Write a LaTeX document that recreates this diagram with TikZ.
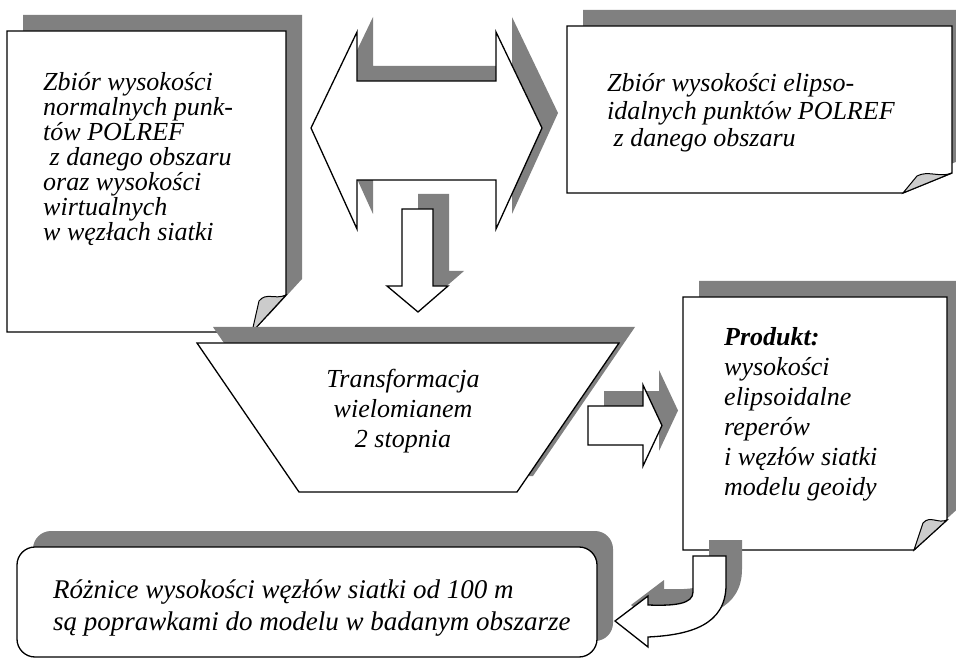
\documentclass[tikz,border=0pt]{standalone}
\usepackage{fontspec}
\setmainfont{Liberation Serif}
\definecolor{shadowgray}{RGB}{128,128,128}
\definecolor{curlgray}{RGB}{204,204,204}
% fixed-pitch stack of lines; baseline = first line
\newcommand{\lns}[3]{\vtop{\fontsize{#1pt}{#2pt}\selectfont\baselineskip=#2pt\lineskiplimit=-1000pt\lineskip=0pt\relax #3}}
\newcommand{\cl}[1]{\hbox to 300pt{\hss #1\hss}}
\begin{document}
\begin{tikzpicture}[x=1pt,y=-1pt,line join=miter,
  shadowfill/.style={fill=shadowgray,draw=none},
  shapebox/.style={fill=white,draw=black,line width=1.3pt},
  curlfill/.style={fill=curlgray,draw=black,line width=1pt},
  txt/.style={inner sep=0pt,font=\itshape}]
\useasboundingbox (0,0) rectangle (956,660);
\clip (0,0) rectangle (956,660);
% ---- box 1 (folded corner)
\path[shadowfill,shift={(16,-16)}] (7,31) -- (286,31) -- (286,295) -- (252,332) -- (7,332) -- cycle;
\path[shapebox] (7,31) -- (286,31) -- (286,295) -- (252,332) -- (7,332) -- cycle;
\path[curlfill] (252,332) -- (259,301) .. controls (266,292) and (275,300) .. (286,295) -- cycle;
% ---- double arrow
\path[shadowfill,shift={(16,-15)}] (311,128) -- (357,32) -- (357,81) -- (496,81) -- (496,32) -- (542,128) -- (496,229) -- (496,180) -- (357,180) -- (357,229) -- cycle;
\path[shapebox] (311,128) -- (357,32) -- (357,81) -- (496,81) -- (496,32) -- (542,128) -- (496,229) -- (496,180) -- (357,180) -- (357,229) -- cycle;
% ---- down arrow
\path[shadowfill,shift={(16,-15)}] (402,209) -- (433,209) -- (433,286) -- (448,286) -- (418,312) -- (387,286) -- (402,286) -- cycle;
\path[shapebox] (402,209) -- (433,209) -- (433,286) -- (448,286) -- (418,312) -- (387,286) -- (402,286) -- cycle;
% ---- box 2
\path[shadowfill,shift={(16,-16)}] (567,26) -- (952,26) -- (952,173) -- (903,193) -- (567,193) -- cycle;
\path[shapebox] (567,26) -- (952,26) -- (952,173) -- (903,193) -- (567,193) -- cycle;
\path[curlfill] (903,193) -- (917,176) .. controls (928,170) and (940,178) .. (952,173) -- cycle;
% ---- trapezoid
\path[shadowfill,shift={(16,-16)}] (197,343) -- (619,343) -- (517,492) -- (299,492) -- cycle;
\path[shapebox] (197,343) -- (619,343) -- (517,492) -- (299,492) -- cycle;
% ---- right arrow
\path[shadowfill,shift={(16,-15)}] (588,406) -- (643,406) -- (643,385) -- (662,425.5) -- (643,466) -- (643,445) -- (588,445) -- cycle;
\path[shapebox] (588,406) -- (643,406) -- (643,385) -- (662,425.5) -- (643,466) -- (643,445) -- (588,445) -- cycle;
% ---- product box
\path[shadowfill,shift={(16,-16)}] (683,297) -- (947,297) -- (947,520) -- (914,550) -- (683,550) -- cycle;
\path[shapebox] (683,297) -- (947,297) -- (947,520) -- (914,550) -- (683,550) -- cycle;
\path[curlfill] (914,550) -- (923,523) .. controls (930,515) and (938,524) .. (947,520) -- cycle;
% ---- bottom rounded box
\path[shadowfill,rounded corners=18pt,shift={(16,-16)}] (17,547) rectangle (597,657);
\path[shapebox,rounded corners=18pt] (17,547) rectangle (597,657);
% ---- bent arrow
\path[shadowfill,shift={(16,-16)}] (693,556) -- (726,556) -- (726,585) .. controls (726,625) and (690,635) .. (648,637) -- (648,647) -- (615,621) -- (648,596) -- (648,605) .. controls (675,606) and (693,604) .. (693,592) -- cycle;
\path[shapebox] (693,556) -- (726,556) -- (726,585) .. controls (726,625) and (690,635) .. (648,637) -- (648,647) -- (615,621) -- (648,596) -- (648,605) .. controls (675,606) and (693,604) .. (693,592) -- cycle;
% ---- texts
\node[txt,anchor=base west] (t1) at (43,90.7) {\lns{26}{24.9}{\hbox{Zbiór wysokości}\hbox{normalnych punk-}\hbox{tów POLREF}\hbox{\ z danego obszaru}\hbox{oraz wysokości}\hbox{wirtualnych}\hbox{w węzłach siatki}}};
\node[txt,anchor=base west] (t2) at (607,92) {\lns{26}{27.5}{\hbox{Zbiór wysokości elipso-}\hbox{idalnych punktów POLREF}\hbox{\ z danego obszaru}}};
\node[txt,anchor=base] (t3) at (403,388) {\lns{26}{30}{\cl{Transformacja}\cl{wielomianem}\cl{2 stopnia}}};
\node[txt,anchor=base west] (t4) at (724,345) {\lns{26}{30}{\hbox{\bfseries Produkt:}\hbox{wysokości}\hbox{elipsoidalne}\hbox{reperów}\hbox{i węzłów siatki}\hbox{modelu geoidy}}};
\node[txt,anchor=base west] (t5) at (53,598) {\lns{27}{32}{\hbox{Różnice wysokości węzłów siatki od 100 m}\hbox{są poprawkami do modelu w badanym obszarze}}};
\end{tikzpicture}
\end{document}
